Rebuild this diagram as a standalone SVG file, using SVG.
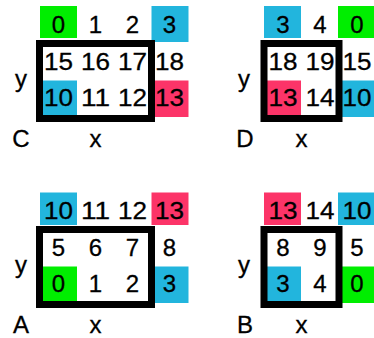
<svg xmlns="http://www.w3.org/2000/svg" width="374" height="338" viewBox="0 0 374 338">
<style>
text{font-family:"Liberation Sans",Arial,sans-serif;font-size:24px;fill:#000;stroke:#000;stroke-width:0.3;text-anchor:middle}
.w{lengthAdjust:spacingAndGlyphs}
.g{fill:#00ee00}
.b{fill:#22b5dd}
.r{fill:#fc3468}
.box{fill:none;stroke:#000;stroke-width:7}
</style>
<rect width="374" height="338" fill="#fff"/>
<g id="panelC">
<rect class="g" x="40" y="6" width="37" height="32"/>
<rect class="b" x="151.5" y="6" width="37" height="36"/>
<rect class="b" x="40" y="80.5" width="37" height="36"/>
<rect class="r" x="151.5" y="80.5" width="37" height="36.5"/>
<text x="58.5" y="33">0</text><text x="95.5" y="33">1</text><text x="132.5" y="33">2</text><text x="169.5" y="33">3</text>
<text x="58.5" y="69.5" textLength="29" lengthAdjust="spacingAndGlyphs">15</text><text x="95.5" y="69.5" textLength="29" lengthAdjust="spacingAndGlyphs">16</text><text x="132.5" y="69.5" textLength="29" lengthAdjust="spacingAndGlyphs">17</text><text x="169.5" y="69.5" textLength="29" lengthAdjust="spacingAndGlyphs">18</text>
<text x="58.5" y="106" textLength="29" lengthAdjust="spacingAndGlyphs">10</text><text x="95.5" y="106" textLength="29" lengthAdjust="spacingAndGlyphs">11</text><text x="132.5" y="106" textLength="29" lengthAdjust="spacingAndGlyphs">12</text><text x="169.5" y="106" textLength="29" lengthAdjust="spacingAndGlyphs">13</text>
<rect class="box" x="39.5" y="43.5" width="112" height="75"/>
<text x="21" y="87">y</text>
<text x="21" y="147">C</text>
<text x="95.5" y="147">x</text>
</g>
<g id="panelD">
<rect class="b" x="264" y="6" width="37" height="32"/>
<rect class="g" x="338" y="6" width="37" height="32"/>
<rect class="r" x="264" y="80.5" width="37" height="36"/>
<rect class="b" x="338" y="80.5" width="37" height="36.5"/>
<text x="283" y="33">3</text><text x="320" y="33">4</text><text x="357" y="33">0</text>
<text x="283" y="69.5" textLength="29" lengthAdjust="spacingAndGlyphs">18</text><text x="320" y="69.5" textLength="29" lengthAdjust="spacingAndGlyphs">19</text><text x="357" y="69.5" textLength="29" lengthAdjust="spacingAndGlyphs">15</text>
<text x="283" y="106" textLength="29" lengthAdjust="spacingAndGlyphs">13</text><text x="320" y="106" textLength="29" lengthAdjust="spacingAndGlyphs">14</text><text x="357" y="106" textLength="29" lengthAdjust="spacingAndGlyphs">10</text>
<rect class="box" x="264" y="43.5" width="75" height="75"/>
<text x="244" y="87">y</text>
<text x="245" y="147">D</text>
<text x="301.5" y="147">x</text>
</g>
<g id="panelA">
<rect class="b" x="40" y="192.5" width="37" height="32.5"/>
<rect class="r" x="151.5" y="192.5" width="37" height="32.5"/>
<rect class="g" x="40" y="266.5" width="37" height="36"/>
<rect class="b" x="151.5" y="266.5" width="37" height="36.5"/>
<text x="58.5" y="219" textLength="29" lengthAdjust="spacingAndGlyphs">10</text><text x="95.5" y="219" textLength="29" lengthAdjust="spacingAndGlyphs">11</text><text x="132.5" y="219" textLength="29" lengthAdjust="spacingAndGlyphs">12</text><text x="169.5" y="219" textLength="29" lengthAdjust="spacingAndGlyphs">13</text>
<text x="58.5" y="255.5">5</text><text x="95.5" y="255.5">6</text><text x="132.5" y="255.5">7</text><text x="169.5" y="255.5">8</text>
<text x="58.5" y="292">0</text><text x="95.5" y="292">1</text><text x="132.5" y="292">2</text><text x="169.5" y="292">3</text>
<rect class="box" x="39.5" y="229.5" width="112" height="75"/>
<text x="21" y="273">y</text>
<text x="21" y="333">A</text>
<text x="95.5" y="333">x</text>
</g>
<g id="panelB">
<rect class="r" x="264" y="192.5" width="37" height="32.5"/>
<rect class="b" x="338" y="192.5" width="37" height="32.5"/>
<rect class="b" x="264" y="266.5" width="37" height="36"/>
<rect class="g" x="338" y="266.5" width="37" height="36.5"/>
<text x="283" y="219" textLength="29" lengthAdjust="spacingAndGlyphs">13</text><text x="320" y="219" textLength="29" lengthAdjust="spacingAndGlyphs">14</text><text x="357" y="219" textLength="29" lengthAdjust="spacingAndGlyphs">10</text>
<text x="283" y="255.5">8</text><text x="320" y="255.5">9</text><text x="357" y="255.5">5</text>
<text x="283" y="292">3</text><text x="320" y="292">4</text><text x="357" y="292">0</text>
<rect class="box" x="264" y="229.5" width="75" height="75"/>
<text x="244" y="273">y</text>
<text x="245" y="333">B</text>
<text x="301.5" y="333">x</text>
</g>
<g id="connectors"/>
</svg>
